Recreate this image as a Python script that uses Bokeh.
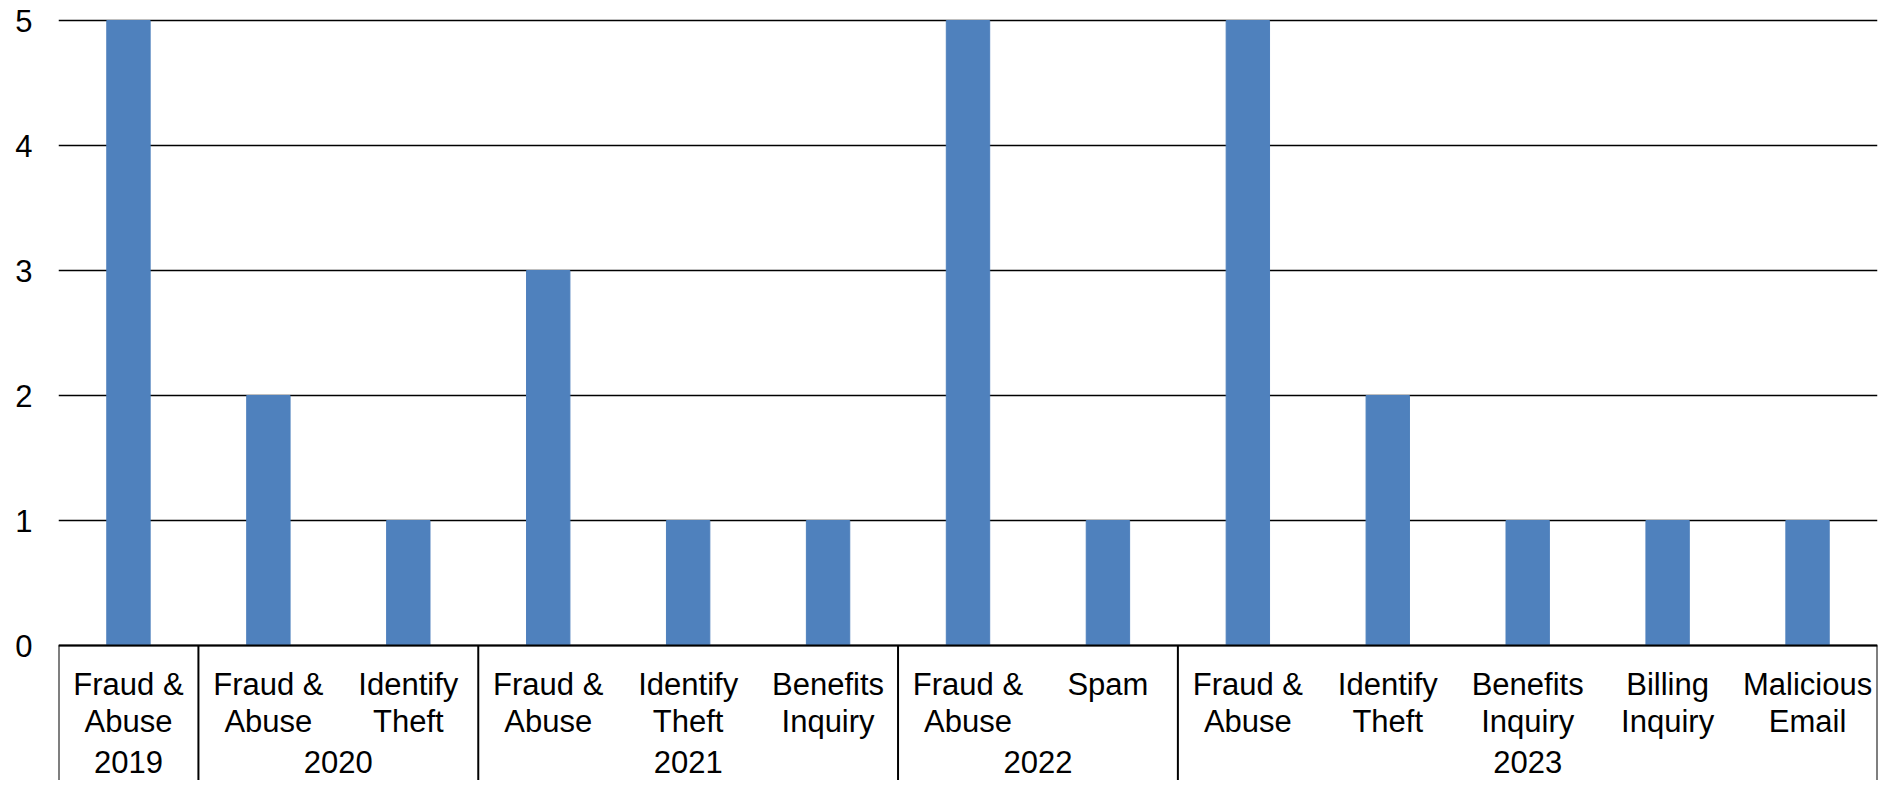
from bokeh.plotting import figure
from bokeh.models import ColumnDataSource, FixedTicker, Range1d, Span
from bokeh.core.properties import value
from bokeh.embed import file_html
from bokeh.resources import INLINE

# ---- data ----
years = ["2019", "2020", "2020", "2021", "2021", "2021", "2022", "2022",
         "2023", "2023", "2023", "2023", "2023"]
issues = ["Fraud &\nAbuse", "Fraud &\nAbuse", "Identify\nTheft",
          "Fraud &\nAbuse", "Identify\nTheft", "Benefits\nInquiry",
          "Fraud &\nAbuse", "Spam",
          "Fraud &\nAbuse", "Identify\nTheft", "Benefits\nInquiry",
          "Billing\nInquiry", "Malicious\nEmail"]
counts = [5, 2, 1, 3, 1, 1, 5, 1, 5, 2, 1, 1, 1]
y_ticks = [0, 1, 2, 3, 4, 5]

FONT = "Liberation Sans"
FSIZE = "31px"
BAR = "#4F81BD"

n = len(counts)
xs = list(range(n))

# group structure derived from years
group_names = []
group_sizes = []
for yv in years:
    if group_names and group_names[-1] == yv:
        group_sizes[-1] += 1
    else:
        group_names.append(yv)
        group_sizes.append(1)
bounds = [-0.5]
for s in group_sizes:
    bounds.append(bounds[-1] + s)
group_mid = [(bounds[i] + bounds[i + 1]) / 2 for i in range(len(group_names))]

y_lo = -1.08
p = figure(width=1880, height=780, output_backend="svg", toolbar_location=None,
           x_range=Range1d(-0.5, n - 0.5), y_range=Range1d(y_lo, 5.04),
           min_border_left=58, min_border_right=3, min_border_top=15,
           min_border_bottom=0)
p.outline_line_color = None
p.xaxis.visible = False
p.xgrid.visible = False

yax = p.yaxis[0]
yax.ticker = FixedTicker(ticks=y_ticks)
yax.axis_line_color = None
yax.major_tick_line_color = None
yax.minor_tick_line_color = None
yax.major_tick_out = 0
yax.major_tick_in = 0
yax.minor_tick_out = 0
yax.major_label_text_font = FONT
yax.major_label_text_font_size = FSIZE
yax.major_label_text_color = "black"
yax.major_label_standoff = 26

p.ygrid.ticker = FixedTicker(ticks=y_ticks)
p.ygrid.grid_line_color = "black"
p.ygrid.grid_line_width = 1.5

src = ColumnDataSource(dict(x=xs, top=counts, issue=issues, year=years,
                            base=[0] * n))
p.vbar(x="x", top="top", width=0.31, bottom=0, source=src,
       fill_color=BAR, line_color=BAR)

p.add_layout(Span(location=0, dimension="width", line_color="black", line_width=2))

# separators of the category box
p.segment(x0=bounds, x1=bounds, y0=[0] * len(bounds), y1=[y_lo] * len(bounds),
          line_color="black", line_width=2)

# sub-category labels
p.text(x="x", y="base", text="issue", source=src, text_align="center",
       text_baseline="top", y_offset=21, text_font=value(FONT),
       text_font_size=FSIZE, text_color="black", text_line_height=1.06)

# year labels
p.text(x=group_mid, y=[0] * len(group_mid), text=group_names, text_align="center",
       text_baseline="middle", y_offset=116, text_font=value(FONT),
       text_font_size=FSIZE, text_color="black")

open("out.html", "w").write(file_html(p, INLINE))
